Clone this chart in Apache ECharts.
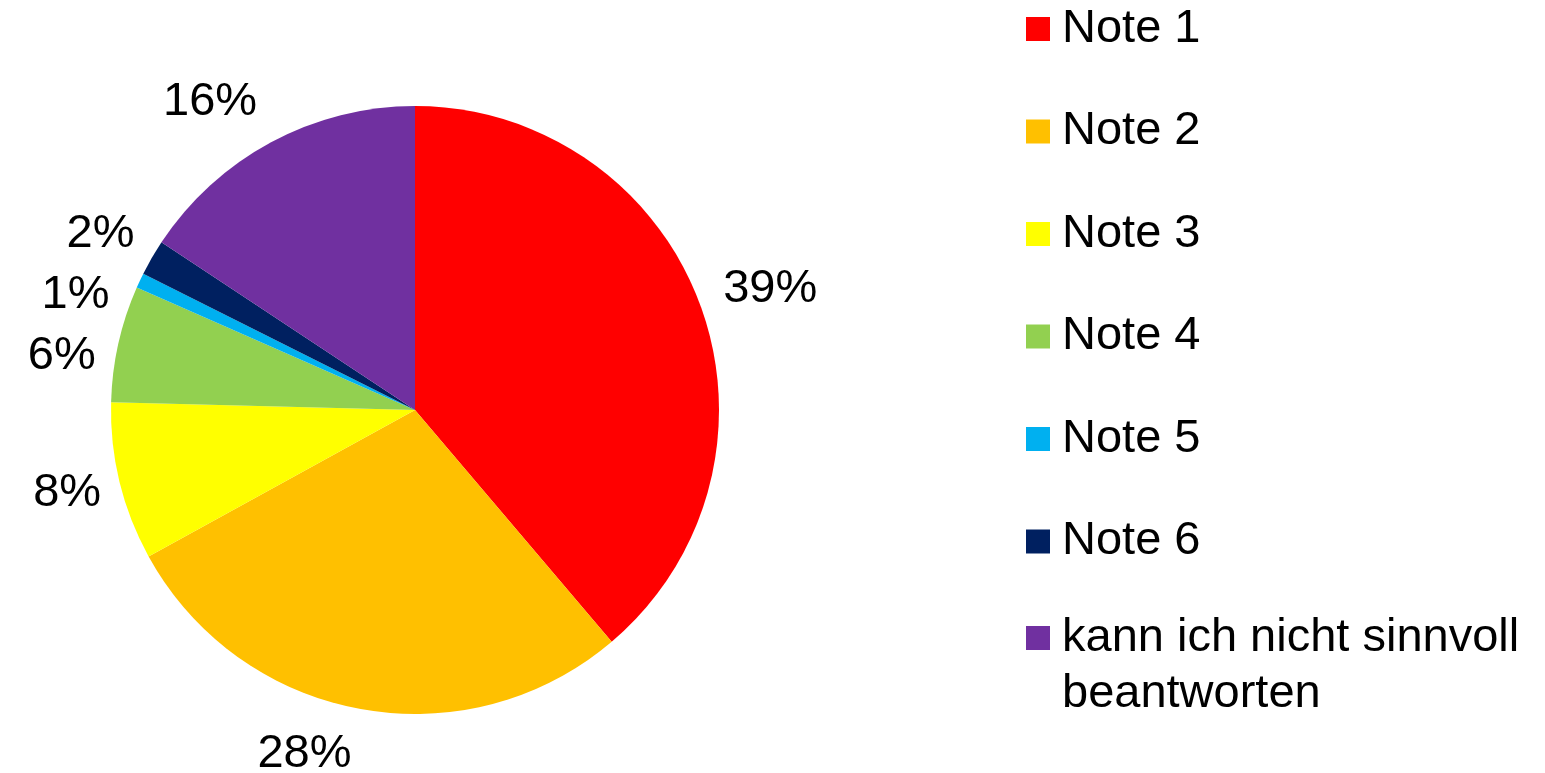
<!DOCTYPE html>
<html>
<head>
<meta charset="utf-8">
<script src="https://cdn.jsdelivr.net/npm/echarts@6/dist/echarts.min.js"></script>
<style>
  html, body { margin: 0; padding: 0; background: #fff; }
  #chart { width: 1545px; height: 773px; }
</style>
</head>
<body>
<div id="chart"></div>
<script>
const categories = ['Note 1', 'Note 2', 'Note 3', 'Note 4', 'Note 5', 'Note 6', 'kann ich nicht sinnvoll beantworten'];
const values = [38.8, 28.2, 8.4, 6.2, 0.8, 1.9, 15.7];
const colors = ['#FF0000', '#FFC000', '#FFFF00', '#92D050', '#00B0F0', '#002060', '#7030A0'];

const FONT = 'Liberation Sans, Arial, sans-serif';
const CX = 415, CY = 410, R = 304, LABEL_DIST = 5;
const chart = echarts.init(document.getElementById('chart'));

const pieData = categories.map((name, i) => ({
  name: name,
  value: values[i],
  itemStyle: { color: colors[i] }
}));

const legendText = { fontSize: 47, fontFamily: FONT, color: '#000', padding: [0, 0, 0, 7] };

chart.setOption({
  animation: false,
  backgroundColor: '#ffffff',
  legend: [
    {
      orient: 'vertical',
      left: 1026,
      top: 2,
      padding: 0,
      itemWidth: 24,
      itemHeight: 24,
      itemGap: 48.5,
      selectedMode: false,
      icon: 'rect',
      data: categories.slice(0, 6),
      textStyle: Object.assign({ lineHeight: 54 }, legendText)
    },
    {
      orient: 'vertical',
      left: 1026,
      top: 554,
      padding: 0,
      itemWidth: 24,
      itemHeight: 24,
      selectedMode: false,
      icon: 'rect',
      data: categories.slice(6),
      formatter: function (name) { return '\n' + name.replace('sinnvoll ', 'sinnvoll\n'); },
      textStyle: Object.assign({ lineHeight: 56 }, legendText)
    }
  ],
  series: [
    {
      type: 'pie',
      center: [CX, CY],
      radius: R,
      startAngle: 90,
      clockwise: true,
      avoidLabelOverlap: true,
      data: pieData,
      label: {
        show: true,
        position: 'outside',
        color: '#000',
        fontSize: 47,
        fontFamily: FONT,
        lineHeight: 54,
        distanceToLabelLine: LABEL_DIST,
        formatter: function (p) { return Math.round(p.percent) + '%'; }
      },
      labelLine: { show: false, length: 19, length2: 0 },
      // push each label outward by half its height along its radial direction
      labelLayout: function (p) {
        const r = p.labelRect;
        const midY = r.y + r.height / 2;
        const edgeX = p.align === 'right' ? r.x + r.width + LABEL_DIST : r.x - LABEL_DIST;
        const vx = edgeX - CX, vy = midY - CY;
        const len = Math.sqrt(vx * vx + vy * vy) || 1;
        return { y: midY + (vy / len) * r.height / 2, verticalAlign: 'middle' };
      },
      emphasis: { disabled: true }
    }
  ]
});
</script>
</body>
</html>
